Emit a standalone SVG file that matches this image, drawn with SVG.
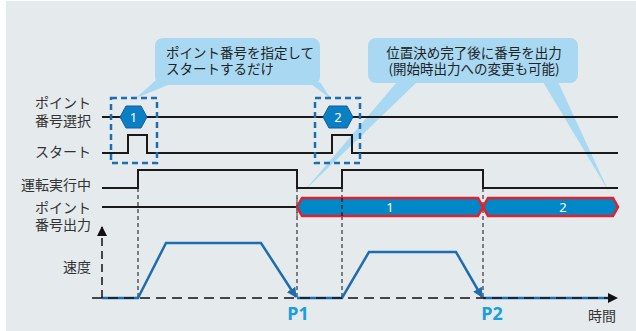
<svg xmlns="http://www.w3.org/2000/svg" width="636" height="331" viewBox="0 0 636 331">
<defs>
<style>
.lbl{font-family:"Noto Sans CJK JP","Noto Sans",sans-serif;font-size:14px;fill:#333;text-anchor:end}
.call{font-family:"Noto Sans CJK JP","Noto Sans",sans-serif;font-size:13.5px;fill:#222}
.sig{fill:none;stroke:#1a1a1a;stroke-width:2}
.vd{fill:none;stroke:#333;stroke-width:1.2;stroke-dasharray:4 3}
.box{fill:none;stroke:#1d6db0;stroke-width:2.5;stroke-dasharray:6 4}
.bub{fill:#a8d8f2}
.hex{fill:#0a7fc4;stroke:#1a5c9c;stroke-width:1}
.bar{fill:#0087c7;stroke:#e3202b;stroke-width:2.5}
.speed{fill:none;stroke:#1f6db0;stroke-width:2.5}
.num{font-family:"Noto Sans","DejaVu Sans",sans-serif;font-size:13px;fill:#fff;text-anchor:middle}
.pt{font-family:"Noto Sans","Liberation Sans",sans-serif;font-weight:bold;font-size:18px;fill:#1a9ee0;text-anchor:middle}
</style>
<marker id="ab" viewBox="0 0 10 10" refX="9" refY="5" markerWidth="10" markerHeight="10" markerUnits="userSpaceOnUse" orient="auto"><path d="M0,0 L10,5 L0,10 z" fill="#1f6db0"/></marker>
<marker id="ak" viewBox="0 0 10 10" refX="9" refY="5" markerWidth="10" markerHeight="10" markerUnits="userSpaceOnUse" orient="auto"><path d="M0,0 L10,5 L0,10 z" fill="#111"/></marker>
</defs>
<rect x="6" y="1" width="630" height="330" fill="#e5eaed"/>

<g id="callout1">
<polygon class="bub" points="156,80 168,85 136,98"/>
<polygon class="bub" points="311,84 320,82 331,99"/>
<rect class="bub" x="155" y="38" width="165" height="47" rx="8"/>
<text class="call" x="166" y="58">ポイント番号を指定して</text>
<text class="call" x="166" y="74">スタートするだけ</text>
</g>

<g id="callout2">
<polygon class="bub" points="397,82 417,82 305,190"/>
<polygon class="bub" points="543,82 558,82 609,192"/>
<rect class="bub" x="368" y="38" width="210" height="45" rx="8"/>
<text class="call" x="474" y="58" text-anchor="middle">位置決め完了後に番号を出力</text>
<text class="call" x="474" y="74" text-anchor="middle">(開始時出力への変更も可能)</text>
</g>

<g id="labels">
<text class="lbl" x="91" y="108">ポイント</text>
<text class="lbl" x="91" y="126">番号選択</text>
<text class="lbl" x="91" y="157">スタート</text>
<text class="lbl" x="91" y="190">運転実行中</text>
<text class="lbl" x="91" y="213">ポイント</text>
<text class="lbl" x="91" y="230">番号出力</text>
<text class="lbl" x="91" y="272">速度</text>
<text class="pt" x="298" y="320">P1</text>
<text class="pt" x="492" y="320">P2</text>
<text class="lbl" x="616" y="321">時間</text>
</g>

<g id="connectors">
<line class="vd" x1="138" y1="188" x2="138" y2="298"/>
<line class="vd" x1="297" y1="188" x2="297" y2="298"/>
<line class="vd" x1="342" y1="188" x2="342" y2="298"/>
<line class="vd" x1="483" y1="188" x2="483" y2="298"/>
<path class="sig" d="M102,117 H618"/>
<path class="sig" d="M102,153 H128 V135 H147 V153 H332 V135 H352 V153 H618"/>
<path class="sig" d="M102,188 H138 V170 H297 V188 H342 V170 H483 V188 H618"/>
<path class="sig" d="M102,207 H297"/>
<path class="speed" d="M102,298 H138 L166,243 H261 L296,297" marker-end="url(#ab)"/>
<path class="speed" d="M297,298 H342 L369,252 H456 L482,297" marker-end="url(#ab)"/>
<path class="speed" d="M483,298 H612"/>
<line x1="92" y1="298" x2="617" y2="298" stroke="#111" stroke-width="1.5" stroke-dasharray="10 6" marker-end="url(#ak)"/>
<line x1="102" y1="298" x2="102" y2="227" stroke="#111" stroke-width="1.5" stroke-dasharray="8 5" marker-end="url(#ak)"/>
</g>

<g id="sel1">
<rect class="box" x="111" y="98" width="46" height="65"/>
<polygon class="hex" points="120,117 126,106 141,106 147,117 141,128 126,128"/>
<text class="num" x="133.5" y="122">1</text>
</g>
<g id="sel2">
<rect class="box" x="315" y="98" width="45" height="65"/>
<polygon class="hex" points="323,117 329,106 347,106 353,117 347,128 329,128"/>
<text class="num" x="338" y="122">2</text>
</g>

<g id="out1">
<polygon class="bar" points="297,207 302,198 478,198 483,207 478,216 302,216"/>
<text class="num" x="390" y="212">1</text>
</g>
<g id="out2">
<polygon class="bar" points="483,207 488,198 613,198 618,207 613,216 488,216"/>
<text class="num" x="563" y="212">2</text>
</g>
<line x1="342" y1="198" x2="342" y2="216" stroke="#111" stroke-width="1.2" stroke-dasharray="4 3"/>
<line x1="297" y1="198" x2="297" y2="216" stroke="#555" stroke-width="1.2" stroke-dasharray="4 3"/>
</svg>
